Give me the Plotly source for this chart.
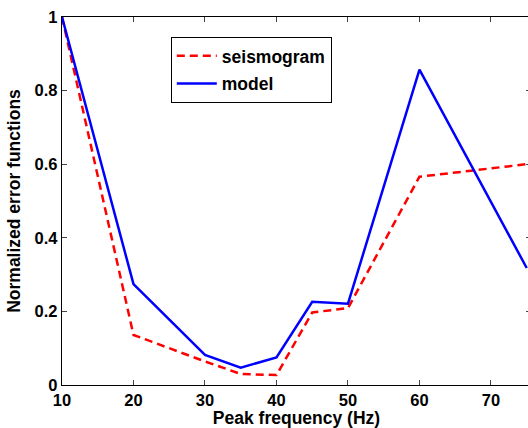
import plotly.graph_objects as go

freq = [10, 20, 30, 35, 40, 45, 50, 60, 75]
seismogram = [1.0, 0.136, 0.064, 0.030, 0.027, 0.197, 0.209, 0.566, 0.600]
model = [1.0, 0.274, 0.082, 0.047, 0.075, 0.226, 0.221, 0.857, 0.318]
x_ticks = [10, 20, 30, 40, 50, 60, 70]
y_ticks = [0, 0.2, 0.4, 0.6, 0.8, 1]
y_tick_labels = ["0", "0.2", "0.4", "0.6", "0.8", "1"]

FAM = "Liberation Sans, Arial, sans-serif"

fig = go.Figure()
fig.add_trace(go.Scatter(x=freq, y=seismogram, mode="lines", name="<b>seismogram</b>",
                         legendgroup="a",
                         line=dict(color="#ff0000", width=2.5, dash="8px,5px")))
fig.add_trace(go.Scatter(x=freq, y=model, mode="lines", name="<b>model</b>",
                         legendgroup="b",
                         line=dict(color="#0000ff", width=2.5)))

fig.update_layout(
    width=531, height=428,
    margin=dict(l=62, r=0, t=17, b=43),
    plot_bgcolor="white", paper_bgcolor="white",
    font=dict(family=FAM, size=17, color="black"),
    showlegend=True,
    legend=dict(x=0.232, y=0.9457, xanchor="left", yanchor="top",
                bordercolor="black", borderwidth=1, bgcolor="white",
                font=dict(family=FAM, size=17.5, color="black"),
                itemwidth=40, tracegroupgap=2),
    xaxis=dict(range=[10, 75.6], tickvals=x_ticks,
               ticktext=[f"<b>{v}</b>" for v in x_ticks],
               ticks="inside", ticklen=5,
               showline=True, linecolor="black", linewidth=1.3, mirror="ticks",
               showgrid=False, zeroline=False,
               tickfont=dict(family=FAM, size=16.5),
               title=dict(text="<b>Peak frequency (Hz)</b>", standoff=0,
                          font=dict(family=FAM, size=17.5))),
    yaxis=dict(range=[0, 1], tickvals=y_ticks,
               ticktext=[f"<b>{t}</b>" for t in y_tick_labels],
               ticks="inside", ticklen=5,
               showline=True, linecolor="black", linewidth=1.3, mirror="ticks",
               showgrid=False, zeroline=False,
               tickfont=dict(family=FAM, size=16.5),
               title=dict(text="<b>Normalized error functions</b>", standoff=9,
                          font=dict(family=FAM, size=17.5))),
)

fig.write_html("out.html", config={"displayModeBar": False},
               post_script="document.body.style.margin='0';document.body.style.overflow='hidden';")
